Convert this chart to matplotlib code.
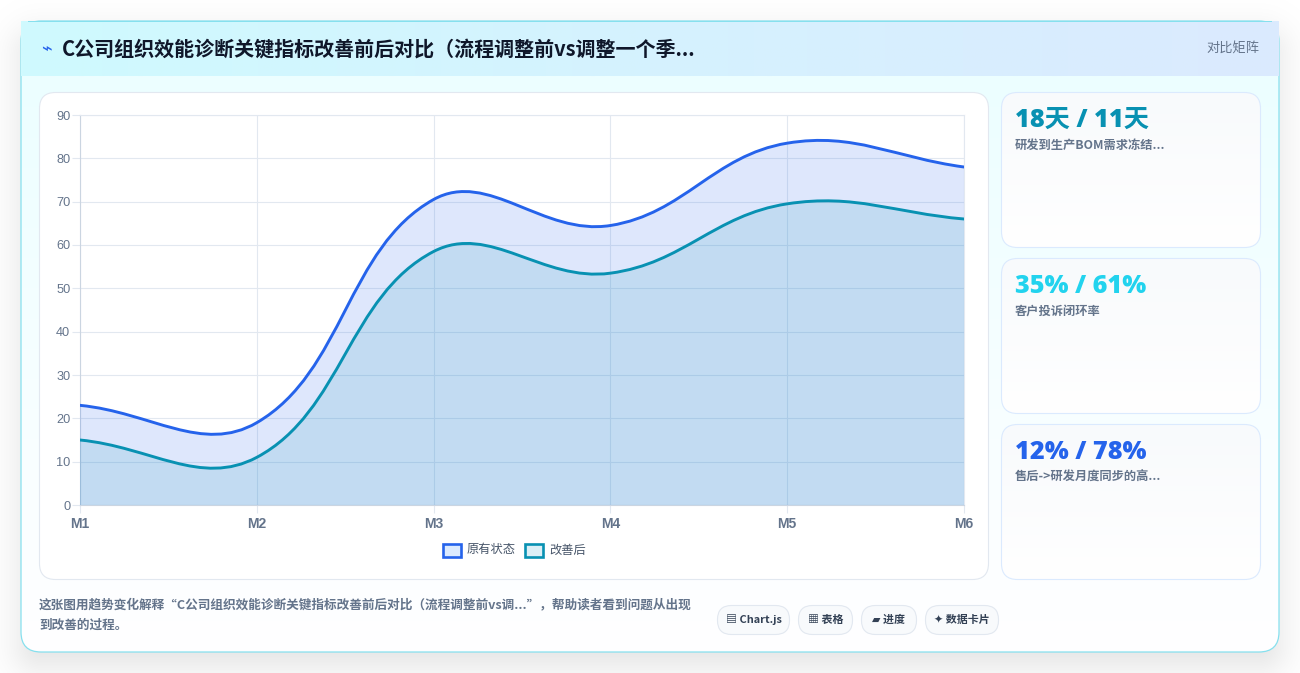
import numpy as np
import matplotlib
matplotlib.use("Agg")
import matplotlib.pyplot as plt
from matplotlib.patches import FancyBboxPatch, PathPatch, Rectangle
from matplotlib.path import Path
from matplotlib.colors import to_rgb

plt.rcParams['font.family'] = ['Noto Sans CJK SC', 'DejaVu Sans']

months = ['M1', 'M2', 'M3', 'M4', 'M5', 'M6']
before = [23, 19, 70.5, 64.5, 83.5, 78]
after = [15, 11, 58.5, 53.5, 69.5, 66]
series_names = ['原有状态', '改善后']
y_ticks = [0, 10, 20, 30, 40, 50, 60, 70, 80, 90]

title = 'C公司组织效能诊断关键指标改善前后对比（流程调整前vs调整一个季...'
badge = '对比矩阵'
stat_values = ['18天 / 11天', '35% / 61%', '12% / 78%']
stat_labels = ['研发到生产BOM需求冻结...', '客户投诉闭环率', '售后->研发月度同步的高...']
stat_colors = ['#0891b2', '#22d3ee', '#2563eb']
note_lines = ['这张图用趋势变化解释“C公司组织效能诊断关键指标改善前后对比（流程调整前vs调...”，帮助读者看到问题从出现',
              '到改善的过程。']
pill_labels = ['▤ Chart.js', '▦ 表格', '▰ 进度', '✦ 数据卡片']

W, H = 1300, 673
BLUE = '#2563eb'
TEAL = '#0891b2'
GRID = '#e2e8f0'
SLATE = '#64748b'


def rounded(ax, x0, y0, x1, y1, r, **kw):
    patch = FancyBboxPatch((x0 + r, y0 + r), x1 - x0 - 2 * r, y1 - y0 - 2 * r,
                           boxstyle='round,pad=%g,rounding_size=%g' % (r, r), **kw)
    ax.add_patch(patch)
    return patch


def gradient(ax, x0, y0, x1, y1, start, end, horizontal=False, clip=None, zorder=1):
    """ Fill a box with a two colour linear gradient. """
    t = np.linspace(0, 1, 256)
    t = t.reshape(1, -1) if horizontal else t.reshape(-1, 1)
    a, b = np.array(to_rgb(start)), np.array(to_rgb(end))
    img = a[None, None, :] * (1 - t[..., None]) + b[None, None, :] * t[..., None]
    im = ax.imshow(img, extent=(x0, x1, y1, y0), aspect='auto', zorder=zorder,
                   interpolation='bilinear')
    if clip is not None:
        im.set_clip_path(clip)
    return im


def shadow(ax, x0, y0, x1, y1, r, offset, sigma, alpha):
    """ Soft box shadow from the signed distance to a rounded box. """
    xs, ys = np.meshgrid(np.arange(W) + 0.5, np.arange(H) + 0.5)
    cx, cy = (x0 + x1) / 2, (y0 + y1) / 2 + offset
    qx = np.abs(xs - cx) - ((x1 - x0) / 2 - r)
    qy = np.abs(ys - cy) - ((y1 - y0) / 2 - r)
    dist = np.hypot(np.maximum(qx, 0), np.maximum(qy, 0)) + np.minimum(np.maximum(qx, qy), 0) - r
    cover = 0.5 * (1 - np.tanh(dist / sigma))
    img = np.zeros((H, W, 4))
    img[..., 3] = alpha * cover
    ax.imshow(img, extent=(0, W, H, 0), aspect='auto', zorder=0, interpolation='bilinear')


def spline_path(values, sx, sy, close=False):
    """ Bezier through the points, tension 0.4, control points worked out in pixels. """
    px = np.arange(len(values), dtype=float) * sx
    py = np.array(values, dtype=float) * sy
    n = len(values)
    before_c, after_c = [], []
    for i in range(n):
        a, b, c = max(i - 1, 0), i, min(i + 1, n - 1)
        d01 = np.hypot(px[b] - px[a], py[b] - py[a])
        d12 = np.hypot(px[c] - px[b], py[c] - py[b])
        total = d01 + d12
        fa, fb = 0.4 * d01 / total, 0.4 * d12 / total
        before_c.append((px[b] - fa * (px[c] - px[a]), py[b] - fa * (py[c] - py[a])))
        after_c.append((px[b] + fb * (px[c] - px[a]), py[b] + fb * (py[c] - py[a])))
    verts = [(px[0], py[0])]
    codes = [Path.MOVETO]
    for i in range(n - 1):
        verts += [after_c[i], before_c[i + 1], (px[i + 1], py[i + 1])]
        codes += [Path.CURVE4] * 3
    if close:
        verts += [(px[-1], 0), (px[0], 0), (px[0], py[0])]
        codes += [Path.LINETO, Path.LINETO, Path.CLOSEPOLY]
    verts = np.array(verts) / [sx, sy]
    return Path(verts, codes)


fig = plt.figure(figsize=(W / 100, H / 100), dpi=100, facecolor='white')
page = fig.add_axes([0, 0, 1, 1])
page.set_axis_off()

shadow(page, 21, 21, 1279, 652, 20, 14, 24, 0.12)

# outer card, header band sits square on top of the rounded border
card = rounded(page, 21, 21, 1279, 652, 20, fc='white', ec='none', zorder=1)
gradient(page, 21, 76, 1279, 652, '#ecfeff', '#ffffff', clip=card, zorder=1)
rounded(page, 21, 21, 1279, 652, 20, fc='none', ec='#86e0ee', lw=0.9, zorder=1.5)
gradient(page, 21, 21, 1279, 76, '#cffafe', '#dbeafe', horizontal=True, zorder=2)
page.add_patch(Rectangle((28, 20.5), 1244, 1, fc='#86e0ee', ec='none', zorder=3))

page.text(41, 50, '⌁', color=BLUE, fontsize=13, va='center', family=['DejaVu Sans'], zorder=5)
page.text(62, 50, title, color='#0f172a', fontsize=14.45, fontweight='bold', va='center', zorder=5)
page.text(1259, 49, badge, color=SLATE, fontsize=9.5, fontweight='medium', ha='right', va='center', zorder=5)

# chart panel and the stat cards on the right
rounded(page, 39.5, 92.5, 988.5, 579.5, 16, fc='white', ec='#e2e8f0', lw=0.8, zorder=4)
for i, top in enumerate([92.5, 258.5, 424.5]):
    box = rounded(page, 1001.5, top, 1260.5, top + 155, 16, fc='white', ec='none', zorder=4)
    gradient(page, 1001.5, top, 1260.5, top + 155, '#f8fafc', '#ffffff', clip=box, zorder=4)
    rounded(page, 1001.5, top, 1260.5, top + 155, 16, fc='none', ec='#dbeafe', lw=0.8, zorder=5)
    page.text(1015, top + 28, stat_values[i], color=stat_colors[i], fontsize=18.2, fontweight='heavy',
              va='center', family=['Open Sans', 'Noto Sans CJK SC'], zorder=6)
    page.text(1015, top + 53, stat_labels[i], color=SLATE, fontsize=8.8, fontweight='bold',
              va='center', zorder=6)

# legend under the plot
legend_x = [442, 524]
for x, name, col in zip(legend_x, series_names, [BLUE, TEAL]):
    page.add_patch(Rectangle((x + 1, 544), 18, 13, fc='#dbeafe' if col == BLUE else '#dbeff6',
                             ec=col, lw=1.9, zorder=6))
    page.text(x + 25, 550, name, color='#475569', fontsize=8.8, fontweight='medium', va='center', zorder=6)

# footer note and pills
for y, line in zip([605, 625], note_lines):
    page.text(39, y, line, color=SLATE, fontsize=9.13, fontweight='bold', va='center', zorder=6)
pill_x = [(717, 790), (798, 853), (861, 917), (925, 999)]
for (x0, x1), label in zip(pill_x, pill_labels):
    rounded(page, x0 + 0.5, 605.5, x1 - 0.5, 634.5, 14, fc='#f8fafc', ec='#e2e8f0', lw=0.8, zorder=5)
    page.text((x0 + x1) / 2, 620, label, color='#334155', fontsize=7.9, fontweight='bold',
              ha='center', va='center', zorder=6)

page.set_xlim(0, W)
page.set_ylim(H, 0)

# line chart proper
ax = fig.add_axes([80 / W, 1 - 505 / H, 884 / W, 390 / H], zorder=2)
ax.patch.set_alpha(0)
ax.set_xlim(0, len(months) - 1)
ax.set_ylim(0, 90)
ax.set_xticks(range(len(months)), months)
ax.set_yticks(y_ticks)
ax.grid(True, color=GRID, lw=0.8, zorder=0)
ax.set_axisbelow(True)
for spine in ax.spines.values():
    spine.set_color(GRID)
    spine.set_linewidth(0.8)
ax.spines['left'].set_color('#cbd5e1')
ax.spines['bottom'].set_color('#cbd5e1')
ax.tick_params(axis='both', color=GRID, length=5.5, width=0.8, labelcolor=SLATE)
for lab in ax.get_yticklabels():
    lab.set(family=['Liberation Sans'], fontsize=9.2)
for lab in ax.get_xticklabels():
    lab.set(family=['Liberation Sans'], fontsize=10, fontweight='bold')
ax.tick_params(axis='y', pad=1.5)
ax.tick_params(axis='x', pad=3.5)

sx, sy = 884 / (len(months) - 1), 390 / 90
for values, col, fill_alpha in zip([before, after], [BLUE, TEAL], [0.15, 0.13]):
    ax.add_patch(PathPatch(spline_path(values, sx, sy, close=True), fc=col, alpha=fill_alpha, ec='none', zorder=3))
for values, col in zip([before, after], [BLUE, TEAL]):
    ax.add_patch(PathPatch(spline_path(values, sx, sy), fc='none', ec=col, lw=2.1, zorder=4,
                           capstyle='round', joinstyle='round'))

fig.savefig('out.png', dpi=100, facecolor='white')
